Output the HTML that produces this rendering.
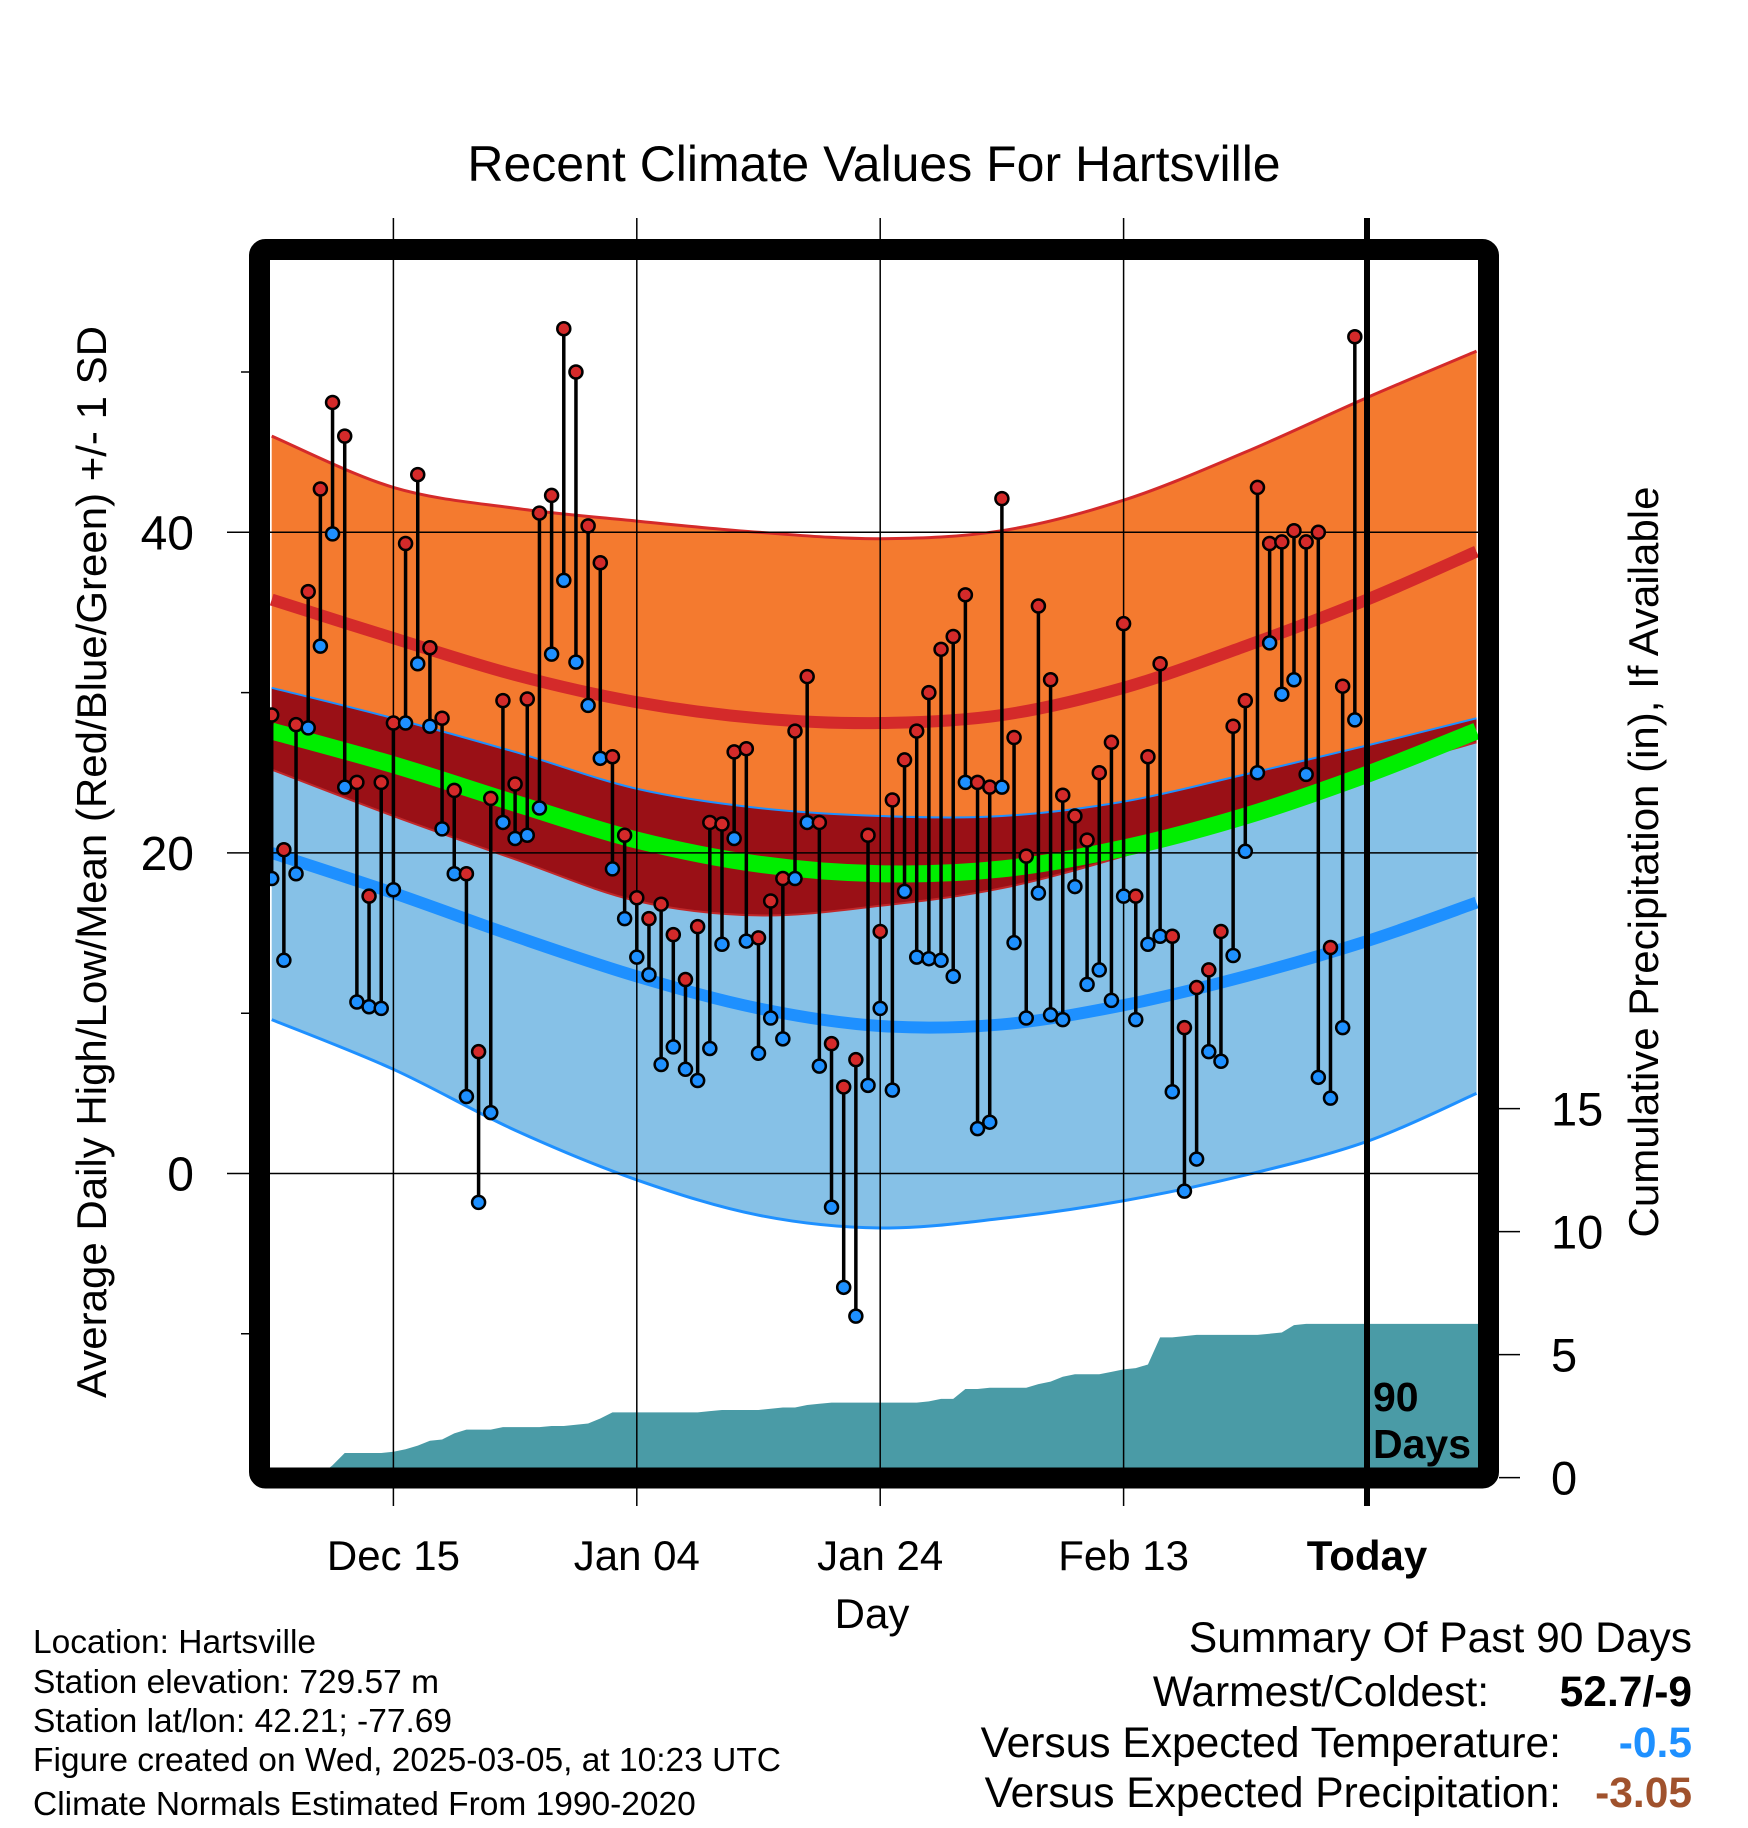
<!DOCTYPE html>
<html><head><meta charset="utf-8">
<style>
body{margin:0;background:#fff;}
svg{display:block;font-family:"Liberation Sans",sans-serif;}
</style></head>
<body>
<svg id="chart" width="1748" height="1828" viewBox="0 0 1748 1828" xmlns="http://www.w3.org/2000/svg">
<rect width="1748" height="1828" fill="#fff"/>
<defs><clipPath id="plotclip"><rect x="270" y="260" width="1208" height="1208"/></clipPath></defs>
<text x="874" y="181" font-size="50" text-anchor="middle">Recent Climate Values For Hartsville</text>
<g id="plot" clip-path="url(#plotclip)"></g>
<g id="overlay"></g>
<text transform="translate(106,862) rotate(-90)" font-size="42" text-anchor="middle">Average Daily High/Low/Mean (Red/Blue/Green) +/- 1 SD</text>
<text transform="translate(1658,862) rotate(-90)" font-size="42" text-anchor="middle">Cumulative Precipitation (in), If Available</text>
<text x="872" y="1628" font-size="42" text-anchor="middle">Day</text>
<g font-size="33.5">
<text x="33" y="1653">Location: Hartsville</text>
<text x="33" y="1693">Station elevation: 729.57 m</text>
<text x="33" y="1732">Station lat/lon: 42.21; -77.69</text>
<text x="33" y="1771">Figure created on Wed, 2025-03-05, at 10:23 UTC</text>
<text x="33" y="1815">Climate Normals Estimated From 1990-2020</text>
</g>
<g font-size="42.5">
<text x="1692" y="1652" text-anchor="end">Summary Of Past 90 Days</text>
<text x="1489" y="1706" text-anchor="end">Warmest/Coldest:</text>
<text x="1692" y="1706" text-anchor="end" font-weight="bold">52.7/-9</text>
<text x="1561" y="1757" text-anchor="end">Versus Expected Temperature:</text>
<text x="1692" y="1757" text-anchor="end" font-weight="bold" fill="#1e90ff">-0.5</text>
<text x="1561" y="1807" text-anchor="end">Versus Expected Precipitation:</text>
<text x="1692" y="1807" text-anchor="end" font-weight="bold" fill="#a0522d">-3.05</text>
</g>
</svg>
<script>
const highs=[28.6,20.2,28.0,36.3,42.7,48.1,46.0,24.4,17.3,24.4,28.1,39.3,43.6,32.8,28.4,23.9,18.7,7.6,23.4,29.5,24.3,29.6,41.2,42.3,52.7,50.0,40.4,38.1,26.0,21.1,17.2,15.9,16.8,14.9,12.1,15.4,21.9,21.8,26.3,26.5,14.7,17.0,18.4,27.6,31.0,21.9,8.1,5.4,7.1,21.1,15.1,23.3,25.8,27.6,30.0,32.7,33.5,36.1,24.4,24.1,42.1,27.2,19.8,35.4,30.8,23.6,22.3,20.8,25.0,26.9,34.3,17.3,26.0,31.8,14.8,9.1,11.6,12.7,15.1,27.9,29.5,42.8,39.3,39.4,40.1,39.4,40.0,14.1,30.4,52.2];
const lows=[18.4,13.3,18.7,27.8,32.9,39.9,24.1,10.7,10.4,10.3,17.7,28.1,31.8,27.9,21.5,18.7,4.8,-1.8,3.8,21.9,20.9,21.1,22.8,32.4,37.0,31.9,29.2,25.9,19.0,15.9,13.5,12.4,6.8,7.9,6.5,5.8,7.8,14.3,20.9,14.5,7.5,9.7,8.4,18.4,21.9,6.7,-2.1,-7.1,-8.9,5.5,10.3,5.2,17.6,13.5,13.4,13.3,12.3,24.4,2.8,3.2,24.1,14.4,9.7,17.5,9.9,9.6,17.9,11.8,12.7,10.8,17.3,9.6,14.3,14.8,5.1,-1.1,0.9,7.6,7.0,13.6,20.1,25.0,33.1,29.9,30.8,24.9,6.0,4.7,9.1,28.3];
const precip=[0,0,0,0,0.1,0.5,1.0,1.0,1.0,1.0,
1.05,1.15,1.3,1.5,1.55,1.8,1.95,1.95,1.95,2.05,
2.05,2.05,2.05,2.1,2.1,2.15,2.2,2.4,2.65,2.65,
2.65,2.65,2.65,2.65,2.65,2.65,2.7,2.75,2.75,2.75,
2.75,2.8,2.85,2.85,2.95,3.0,3.05,3.05,3.05,3.05,
3.05,3.05,3.05,3.05,3.1,3.2,3.2,3.6,3.6,3.65,
3.65,3.65,3.65,3.8,3.9,4.1,4.2,4.2,4.2,4.3,
4.4,4.45,4.6,5.7,5.7,5.75,5.8,5.8,5.8,5.8,
5.8,5.8,5.85,5.9,6.2,6.25,6.25,6.25,6.25,6.25];
const normDays=[-90,-80,-70,-60,-50,-40,-30,-20,-10,0,9];
const normHigh=[35.8,33.4,31.1,29.4,28.4,28.1,28.6,30.3,32.9,35.8,38.8];
const highPlusSD=[46.0,42.8,41.5,40.7,40.0,39.6,40.1,42.0,45.0,48.4,51.3];
const highMinusSD=[25.2,22.3,19.6,17.0,16.1,16.7,17.8,19.8,22.3,24.9,26.9];
const normMean=[27.6,25.5,23.1,20.8,19.3,18.7,19.0,20.3,22.3,24.9,27.6];
const normLow=[20.0,17.5,14.8,12.3,10.3,9.2,9.3,10.5,12.3,14.5,16.9];
const lowPlusSD=[30.3,28.4,26.3,24.0,22.8,22.3,22.3,23.2,24.9,26.7,28.4];
const lowMinusSD=[9.6,6.5,2.7,-0.4,-2.6,-3.4,-2.8,-1.7,-0.1,2.0,5.0];
const tempTicks=[40,20,0];
const tempMinor=[50,30,10,-10];
const precipTicks=[0,5,10,15];
const dateTicks=[-80,-60,-40,-20,0];
const dateLabels=["Dec 15","Jan 04","Jan 24","Feb 13","Today"];

const NS="http://www.w3.org/2000/svg";
const xS=d=>1367+d*12.17;
const yT=t=>1173.5-t*16.03;
const yP=p=>1477.6-p*24.6;
const L=270,R=1478,T=260,B=1468;
function mk(tag,attrs,parent){const e=document.createElementNS(NS,tag);for(const k in attrs)e.setAttribute(k,attrs[k]);parent.appendChild(e);return e;}
const plot=document.getElementById('plot');
const ov=document.getElementById('overlay');

function curvePts(arr){const pts=[];for(let i=0;i<normDays.length;i++)pts.push([xS(normDays[i]),yT(arr[i])]);return pts;}
function smoothPath(pts){let d=`M${pts[0][0]},${pts[0][1]}`;for(let i=0;i<pts.length-1;i++){const p0=pts[Math.max(i-1,0)],p1=pts[i],p2=pts[i+1],p3=pts[Math.min(i+2,pts.length-1)];const c1=[p1[0]+(p2[0]-p0[0])/6,p1[1]+(p2[1]-p0[1])/6],c2=[p2[0]-(p3[0]-p1[0])/6,p2[1]-(p3[1]-p1[1])/6];d+=` C${c1[0]},${c1[1]} ${c2[0]},${c2[1]} ${p2[0]},${p2[1]}`;}return d;}
function revPath(pts){const r=pts.slice().reverse();return smoothPath(r).replace(/^M/,'L');}
function band(top,bot,fill,name){const a=curvePts(top),b=curvePts(bot);const e=mk('path',{d:smoothPath(a)+' '+revPath(b)+' Z',fill:fill},plot);

return e;}
function line(arr,color,w,name){const e=mk('path',{d:smoothPath(curvePts(arr)),fill:'none',stroke:color,'stroke-width':w},plot);

return e;}

band(highPlusSD,highMinusSD,'#f47a2f','high-sd-band');
band(lowPlusSD,lowMinusSD,'#86c1e7','low-sd-band');
band(lowPlusSD,highMinusSD,'#9a1016','overlap-band');
line(highPlusSD,'#d42a2a',3,'high-plus-sd-line');
line(highMinusSD,'#c0282a',2,'high-minus-sd-line');
line(lowPlusSD,'#1e90ff',2,'low-plus-sd-line');
line(lowMinusSD,'#1e90ff',3,'low-minus-sd-line');
line(normHigh,'#d42a2a',12,'normal-high-line');
line(normLow,'#1e90ff',12,'normal-low-line');
line(normMean,'#00ee00',17,'normal-mean-line');

// precipitation area (linear between days)
let pd=`M${xS(-90)},${yP(0)}`;
for(let i=0;i<precip.length;i++){const d=-90+i;pd+=` L${xS(d)},${yP(precip[i])}`;}
pd+=` L${R},${yP(precip[precip.length-1])} L${R},${yP(0)} Z`;
const pa=mk('path',{d:pd,fill:'#4a9ba6'},plot);



tempTicks.forEach(t=>{const g=mk('line',{x1:227,x2:R,y1:yT(t),y2:yT(t),stroke:'#000','stroke-width':1.5},ov);


const tx=mk('text',{x:194,y:yT(t)+17,'font-size':48,'text-anchor':'end'},ov);tx.textContent=t;

});
tempMinor.forEach(t=>{const g=mk('line',{x1:241,x2:270,y1:yT(t),y2:yT(t),stroke:'#000','stroke-width':1.5},ov);

});
dateTicks.forEach((d,i)=>{const g=mk('line',{x1:xS(d),x2:xS(d),y1:218,y2:1506,stroke:'#000','stroke-width':d===0?6:1.5},ov);


const tx=mk('text',{x:xS(d),y:1570,'font-size':42,'text-anchor':'middle','font-weight':d===0?'bold':'normal'},ov);tx.textContent=dateLabels[i];

});
precipTicks.forEach(p=>{const g=mk('line',{x1:1499,x2:1520,y1:yP(p),y2:yP(p),stroke:'#000','stroke-width':1.5},ov);


const tx=mk('text',{x:1551,y:yP(p)+17,'font-size':47},ov);tx.textContent=p;

});

const dots=mk('g',{},ov);


for(let i=0;i<highs.length;i++){const x=xS(-90+i);
const s=mk('line',{x1:x,x2:x,y1:yT(highs[i]),y2:yT(lows[i]),stroke:'#000','stroke-width':3.5},dots);

}
for(let i=0;i<highs.length;i++){const x=xS(-90+i);
const h=mk('circle',{cx:x,cy:yT(highs[i]),r:6.5,fill:'#d42a2a',stroke:'#000','stroke-width':2.5},dots);


const l=mk('circle',{cx:x,cy:yT(lows[i]),r:6.5,fill:'#1e90ff',stroke:'#000','stroke-width':2.5},dots);

}

const fr=mk('rect',{x:259.5,y:249.5,width:1229,height:1228.5,rx:6,fill:'none',stroke:'#000','stroke-width':21},ov);


const t1=mk('text',{x:1373,y:1411,'font-size':41,'font-weight':'bold'},ov);t1.textContent='90';


const t2=mk('text',{x:1373,y:1458,'font-size':41,'font-weight':'bold'},ov);t2.textContent='Days';


</script>
</body></html>
